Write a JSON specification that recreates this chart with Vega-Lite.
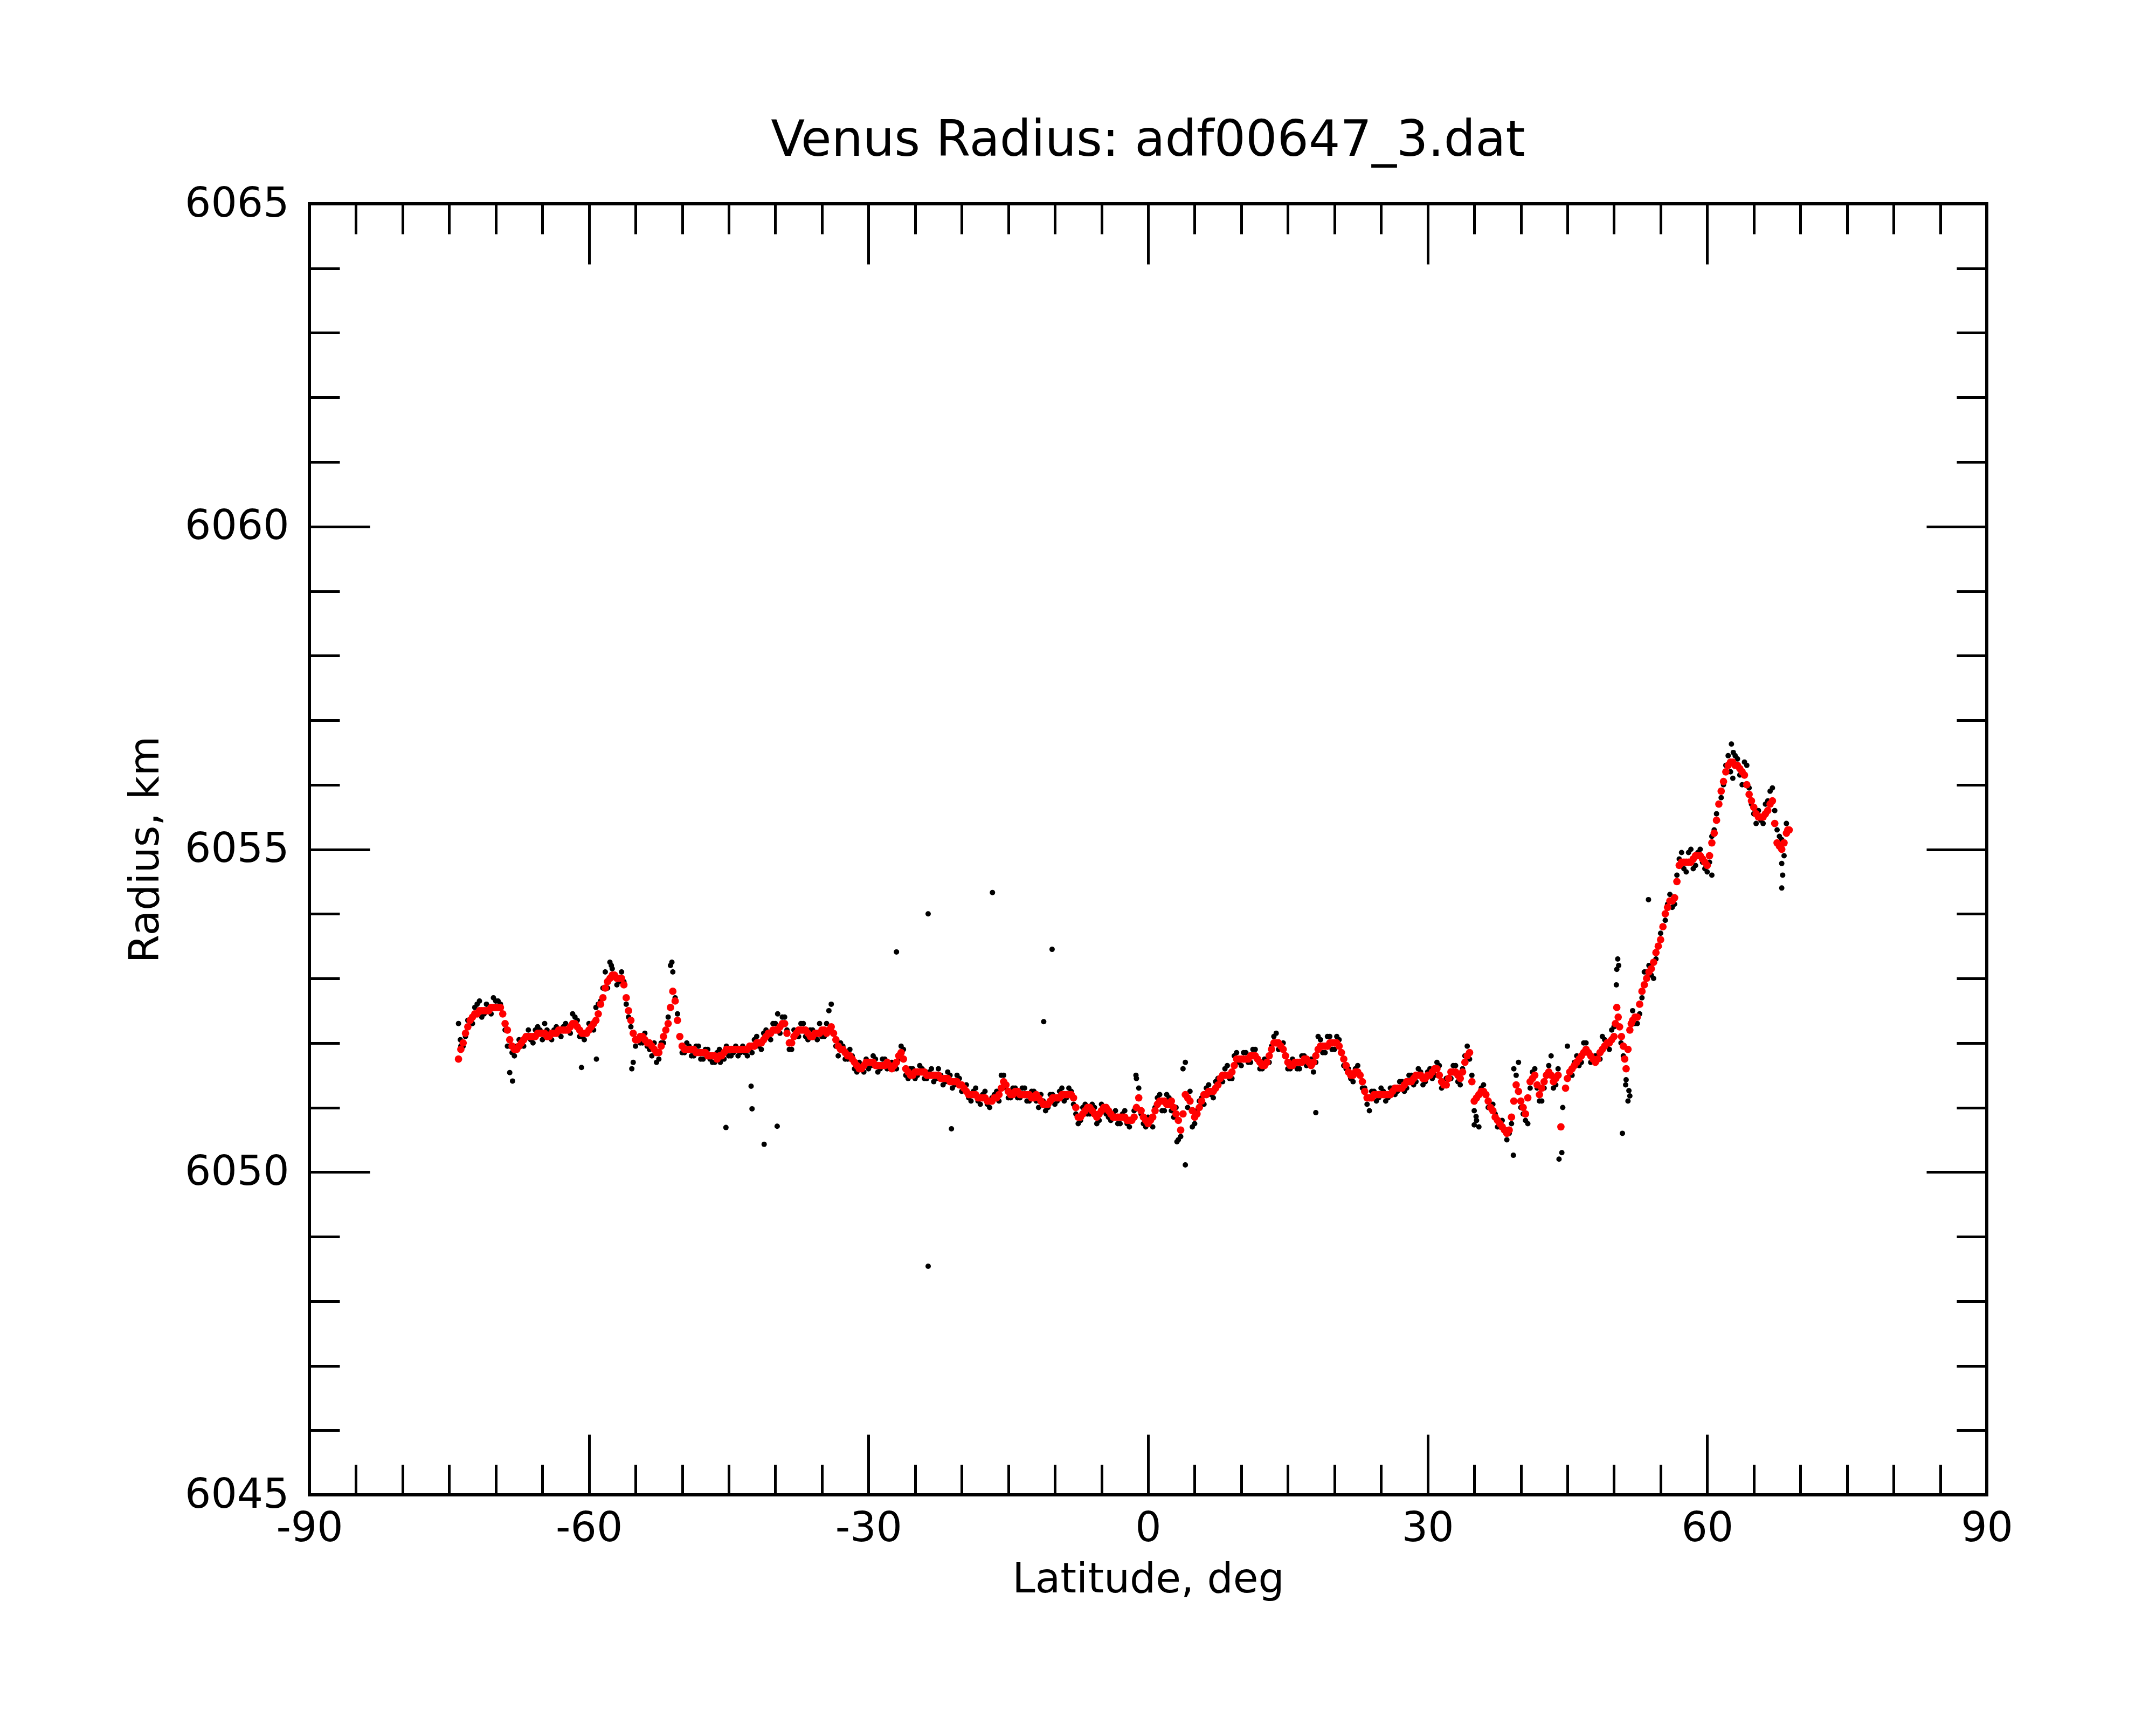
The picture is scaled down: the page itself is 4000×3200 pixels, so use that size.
{
"$schema": "https://vega.github.io/schema/vega-lite/v6.json",
"autosize": {"type": "none"},
"padding": {"left": 574, "top": 378, "right": 314, "bottom": 427},
"width": 3112,
"height": 2395,
"config": {
  "view": {"stroke": "black", "strokeWidth": 6},
  "font": "DejaVu Sans",
  "axis": {"grid": false, "domain": false, "tickColor": "black", "tickWidth": 5, "labelColor": "black", "labelFont": "DejaVu Sans", "labelFontSize": 76, "labelLimit": 1000, "titleFont": "DejaVu Sans", "titleFontSize": 76, "titleFontWeight": "normal", "titleColor": "black", "labelOverlap": false, "labelFlush": false, "labelBound": false}
},
"title": {"text": "Venus Radius: adf00647_3.dat", "font": "DejaVu Sans", "fontSize": 92, "fontWeight": "normal", "color": "black", "anchor": "middle", "baseline": "alphabetic", "offset": -41},
"datasets": {
"raw": [
{"lat":-74.0,"r":6052.3},{"lat":-73.8,"r":6052.05},{"lat":-73.75,"r":6051.95},{"lat":-73.25,"r":6052.1},{"lat":-72.75,"r":6052.35},{"lat":-72.25,"r":6052.55},{"lat":-71.75,"r":6052.65},{"lat":-71.25,"r":6052.45},{"lat":-70.75,"r":6052.5},{"lat":-70.25,"r":6052.7},{"lat":-69.75,"r":6052.65},{"lat":-69.25,"r":6052.45},{"lat":-68.75,"r":6051.95},{"lat":-68.25,"r":6051.85},{"lat":-67.75,"r":6051.95},{"lat":-67.25,"r":6052.0},{"lat":-66.75,"r":6052.1},{"lat":-66.25,"r":6052.05},{"lat":-65.75,"r":6052.2},{"lat":-65.25,"r":6052.2},{"lat":-64.75,"r":6052.3},{"lat":-64.25,"r":6052.1},{"lat":-63.75,"r":6052.2},{"lat":-63.25,"r":6052.15},{"lat":-62.75,"r":6052.25},{"lat":-62.25,"r":6052.2},{"lat":-61.75,"r":6052.45},{"lat":-61.25,"r":6052.35},{"lat":-60.75,"r":6052.1},{"lat":-60.25,"r":6052.15},{"lat":-59.75,"r":6052.25},{"lat":-59.25,"r":6052.55},{"lat":-58.75,"r":6052.65},{"lat":-58.25,"r":6053.1},{"lat":-57.75,"r":6053.25},{"lat":-57.25,"r":6053.05},{"lat":-56.75,"r":6052.95},{"lat":-56.25,"r":6052.95},{"lat":-55.75,"r":6052.4},{"lat":-55.25,"r":6051.7},{"lat":-54.75,"r":6052.05},{"lat":-54.25,"r":6052.0},{"lat":-53.75,"r":6051.95},{"lat":-53.25,"r":6051.8},{"lat":-52.75,"r":6051.7},{"lat":-52.25,"r":6052.0},{"lat":-51.75,"r":6052.2},{"lat":-51.25,"r":6053.2},{"lat":-51.0,"r":6053.1},{"lat":-50.75,"r":6052.7},{"lat":-50.25,"r":6052.1},{"lat":-49.75,"r":6051.85},{"lat":-49.25,"r":6051.95},{"lat":-48.75,"r":6051.8},{"lat":-48.25,"r":6051.95},{"lat":-47.75,"r":6051.75},{"lat":-47.25,"r":6051.9},{"lat":-46.75,"r":6051.7},{"lat":-46.25,"r":6051.85},{"lat":-45.75,"r":6051.75},{"lat":-45.25,"r":6051.95},{"lat":-44.75,"r":6051.8},{"lat":-44.25,"r":6051.95},{"lat":-43.75,"r":6051.85},{"lat":-43.25,"r":6051.85},{"lat":-42.75,"r":6051.9},{"lat":-42.25,"r":6052.05},{"lat":-41.75,"r":6051.95},{"lat":-41.25,"r":6052.15},{"lat":-40.75,"r":6052.1},{"lat":-40.25,"r":6052.3},{"lat":-39.75,"r":6052.45},{"lat":-39.25,"r":6052.4},{"lat":-38.75,"r":6052.2},{"lat":-38.25,"r":6051.9},{"lat":-37.75,"r":6052.15},{"lat":-37.25,"r":6052.3},{"lat":-36.75,"r":6052.1},{"lat":-36.25,"r":6052.2},{"lat":-35.75,"r":6052.1},{"lat":-35.25,"r":6052.3},{"lat":-34.75,"r":6052.1},{"lat":-34.25,"r":6052.5},{"lat":-34.0,"r":6052.6},{"lat":-33.75,"r":6052.15},{"lat":-33.25,"r":6051.8},{"lat":-32.75,"r":6051.95},{"lat":-32.25,"r":6051.75},{"lat":-31.75,"r":6051.8},{"lat":-31.25,"r":6051.55},{"lat":-30.75,"r":6051.6},{"lat":-30.25,"r":6051.75},{"lat":-29.75,"r":6051.65},{"lat":-29.25,"r":6051.75},{"lat":-28.75,"r":6051.6},{"lat":-28.25,"r":6051.75},{"lat":-27.75,"r":6051.65},{"lat":-27.25,"r":6051.6},{"lat":-26.75,"r":6051.75},{"lat":-26.25,"r":6051.9},{"lat":-25.75,"r":6051.45},{"lat":-25.25,"r":6051.6},{"lat":-24.75,"r":6051.5},{"lat":-24.25,"r":6051.6},{"lat":-23.75,"r":6051.45},{"lat":-23.25,"r":6051.6},{"lat":-22.75,"r":6051.45},{"lat":-22.25,"r":6051.5},{"lat":-21.75,"r":6051.4},{"lat":-21.25,"r":6051.5},{"lat":-20.75,"r":6051.35},{"lat":-20.25,"r":6051.45},{"lat":-19.75,"r":6051.3},{"lat":-19.25,"r":6051.15},{"lat":-18.75,"r":6051.25},{"lat":-18.25,"r":6051.1},{"lat":-17.75,"r":6051.2},{"lat":-17.25,"r":6051.05},{"lat":-16.75,"r":6051.15},{"lat":-16.25,"r":6051.25},{"lat":-15.75,"r":6051.5},{"lat":-15.25,"r":6051.3},{"lat":-14.75,"r":6051.15},{"lat":-14.25,"r":6051.3},{"lat":-13.75,"r":6051.15},{"lat":-13.25,"r":6051.3},{"lat":-12.75,"r":6051.1},{"lat":-12.25,"r":6051.25},{"lat":-11.75,"r":6051.0},{"lat":-11.25,"r":6051.1},{"lat":-10.75,"r":6051.0},{"lat":-10.25,"r":6051.2},{"lat":-9.75,"r":6051.1},{"lat":-9.25,"r":6051.3},{"lat":-8.75,"r":6051.15},{"lat":-8.25,"r":6051.25},{"lat":-7.75,"r":6050.9},{"lat":-7.25,"r":6050.8},{"lat":-6.75,"r":6051.05},{"lat":-6.25,"r":6050.9},{"lat":-5.75,"r":6051.0},{"lat":-5.25,"r":6050.8},{"lat":-4.75,"r":6051.0},{"lat":-4.25,"r":6050.85},{"lat":-3.75,"r":6050.9},{"lat":-3.25,"r":6050.75},{"lat":-2.75,"r":6050.9},{"lat":-2.25,"r":6050.75},{"lat":-1.75,"r":6050.8},{"lat":-1.25,"r":6051.45},{"lat":-0.75,"r":6050.9},{"lat":-0.25,"r":6050.7},{"lat":0.25,"r":6050.8},{"lat":0.75,"r":6051.0},{"lat":1.25,"r":6051.2},{"lat":1.75,"r":6050.95},{"lat":2.25,"r":6051.15},{"lat":2.75,"r":6050.85},{"lat":3.25,"r":6050.5},{"lat":3.75,"r":6051.6},{"lat":4.0,"r":6051.7},{"lat":4.25,"r":6051.0},{"lat":4.75,"r":6050.7},{"lat":5.25,"r":6050.95},{"lat":5.75,"r":6051.15},{"lat":6.25,"r":6051.3},{"lat":6.75,"r":6051.2},{"lat":7.25,"r":6051.4},{"lat":7.75,"r":6051.45},{"lat":8.25,"r":6051.6},{"lat":8.75,"r":6051.45},{"lat":9.25,"r":6051.8},{"lat":9.75,"r":6051.7},{"lat":10.25,"r":6051.85},{"lat":10.75,"r":6051.7},{"lat":11.25,"r":6051.9},{"lat":11.75,"r":6051.75},{"lat":12.25,"r":6051.6},{"lat":12.75,"r":6051.7},{"lat":13.25,"r":6051.95},{"lat":13.75,"r":6052.15},{"lat":14.25,"r":6051.95},{"lat":14.75,"r":6051.8},{"lat":15.25,"r":6051.6},{"lat":15.75,"r":6051.7},{"lat":16.25,"r":6051.6},{"lat":16.75,"r":6051.8},{"lat":17.25,"r":6051.7},{"lat":17.75,"r":6051.55},{"lat":18.25,"r":6052.1},{"lat":18.75,"r":6051.85},{"lat":19.25,"r":6052.1},{"lat":19.75,"r":6051.9},{"lat":20.25,"r":6052.1},{"lat":20.75,"r":6051.85},{"lat":21.25,"r":6051.6},{"lat":21.75,"r":6051.45},{"lat":22.25,"r":6051.6},{"lat":22.75,"r":6051.5},{"lat":23.25,"r":6051.3},{"lat":23.75,"r":6050.95},{"lat":24.25,"r":6051.25},{"lat":24.75,"r":6051.15},{"lat":25.25,"r":6051.25},{"lat":25.75,"r":6051.15},{"lat":26.25,"r":6051.3},{"lat":26.75,"r":6051.25},{"lat":27.25,"r":6051.4},{"lat":27.75,"r":6051.3},{"lat":28.25,"r":6051.5},{"lat":28.75,"r":6051.4},{"lat":29.25,"r":6051.55},{"lat":29.75,"r":6051.4},{"lat":30.25,"r":6051.6},{"lat":30.75,"r":6051.5},{"lat":31.25,"r":6051.65},{"lat":31.75,"r":6051.35},{"lat":32.25,"r":6051.45},{"lat":32.75,"r":6051.65},{"lat":33.25,"r":6051.4},{"lat":33.75,"r":6051.6},{"lat":34.25,"r":6051.95},{"lat":34.75,"r":6051.5},{"lat":35.25,"r":6050.8},{"lat":35.5,"r":6050.7},{"lat":35.75,"r":6051.3},{"lat":36.25,"r":6051.2},{"lat":36.75,"r":6051.05},{"lat":37.25,"r":6050.9},{"lat":37.75,"r":6050.7},{"lat":38.25,"r":6050.65},{"lat":38.75,"r":6050.6},{"lat":39.25,"r":6051.6},{"lat":39.75,"r":6051.7},{"lat":40.25,"r":6050.9},{"lat":40.75,"r":6050.75},{"lat":41.25,"r":6051.55},{"lat":41.75,"r":6051.3},{"lat":42.25,"r":6051.1},{"lat":42.75,"r":6051.5},{"lat":43.25,"r":6051.8},{"lat":43.75,"r":6051.35},{"lat":44.5,"r":6051.0},{"lat":45.0,"r":6051.95},{"lat":45.25,"r":6051.5},{"lat":45.75,"r":6051.7},{"lat":46.25,"r":6051.65},{"lat":46.75,"r":6052.0},{"lat":47.25,"r":6051.85},{"lat":47.75,"r":6051.75},{"lat":48.25,"r":6051.8},{"lat":48.75,"r":6052.1},{"lat":49.25,"r":6051.95},{"lat":49.75,"r":6052.2},{"lat":50.25,"r":6052.9},{"lat":50.4,"r":6053.3},{"lat":50.5,"r":6053.2},{"lat":50.75,"r":6052.0},{"lat":51.25,"r":6051.35},{"lat":51.5,"r":6051.1},{"lat":52.0,"r":6052.5},{"lat":52.25,"r":6052.3},{"lat":52.75,"r":6052.45},{"lat":53.25,"r":6053.1},{"lat":53.75,"r":6053.2},{"lat":54.25,"r":6053.0},{"lat":54.75,"r":6053.5},{"lat":55.25,"r":6053.8},{"lat":55.75,"r":6054.15},{"lat":56.25,"r":6054.1},{"lat":56.75,"r":6054.6},{"lat":57.25,"r":6054.95},{"lat":57.75,"r":6054.65},{"lat":58.25,"r":6055.0},{"lat":58.75,"r":6054.75},{"lat":59.25,"r":6055.0},{"lat":59.75,"r":6054.7},{"lat":60.25,"r":6054.8},{"lat":60.75,"r":6055.3},{"lat":61.25,"r":6055.7},{"lat":61.75,"r":6056.0},{"lat":62.25,"r":6056.45},{"lat":62.75,"r":6056.1},{"lat":63.25,"r":6056.4},{"lat":63.75,"r":6056.0},{"lat":64.25,"r":6056.3},{"lat":64.75,"r":6055.7},{"lat":65.25,"r":6055.4},{"lat":65.75,"r":6055.45},{"lat":66.25,"r":6055.7},{"lat":66.75,"r":6055.9},{"lat":67.25,"r":6055.6},{"lat":67.75,"r":6055.2},{"lat":68.25,"r":6054.9},{"lat":68.5,"r":6055.4},
{"lat":-23.6,"r":6054.0},{"lat":-16.7,"r":6054.33},{"lat":-27.0,"r":6053.41},{"lat":-10.3,"r":6053.45},{"lat":-11.2,"r":6052.33},{"lat":-23.6,"r":6048.54},{"lat":-45.3,"r":6050.69},{"lat":-41.2,"r":6050.43},{"lat":-39.8,"r":6050.71},{"lat":-42.5,"r":6050.98},{"lat":-42.6,"r":6051.33},{"lat":-60.8,"r":6051.62},{"lat":-59.2,"r":6051.75},{"lat":-68.2,"r":6051.41},{"lat":-68.5,"r":6051.54},{"lat":-21.1,"r":6050.67},{"lat":4.0,"r":6050.11},{"lat":3.1,"r":6050.47},{"lat":-1.3,"r":6051.5},{"lat":18.0,"r":6050.92},{"lat":39.2,"r":6050.26},{"lat":44.1,"r":6050.2},{"lat":44.4,"r":6050.3},{"lat":50.9,"r":6050.6},{"lat":53.7,"r":6054.22},{"lat":50.3,"r":6053.14},{"lat":51.6,"r":6051.26},{"lat":51.3,"r":6051.43},{"lat":51.7,"r":6051.18},{"lat":68.0,"r":6054.4},{"lat":68.1,"r":6054.6},{"lat":68.0,"r":6054.78},{"lat":62.6,"r":6056.63},{"lat":62.8,"r":6056.5},{"lat":60.5,"r":6054.6},{"lat":-57.6,"r":6053.2},{"lat":-51.1,"r":6053.25},{"lat":35.0,"r":6050.73},{"lat":35.2,"r":6050.86},{"lat":-55.4,"r":6051.6},{"lat":-45.9,"r":6051.7},
{"lat":-73.5,"r":6051.95},{"lat":-73.0,"r":6052.35},{"lat":-72.5,"r":6052.3},{"lat":-72.0,"r":6052.6},{"lat":-71.5,"r":6052.4},{"lat":-71.0,"r":6052.6},{"lat":-70.5,"r":6052.45},{"lat":-70.0,"r":6052.65},{"lat":-69.5,"r":6052.6},{"lat":-69.0,"r":6052.2},{"lat":-68.5,"r":6051.95},{"lat":-68.0,"r":6051.8},{"lat":-67.5,"r":6052.05},{"lat":-67.0,"r":6051.95},{"lat":-66.5,"r":6052.2},{"lat":-66.0,"r":6052.0},{"lat":-65.5,"r":6052.25},{"lat":-65.0,"r":6052.05},{"lat":-64.5,"r":6052.2},{"lat":-64.0,"r":6052.05},{"lat":-63.5,"r":6052.25},{"lat":-63.0,"r":6052.1},{"lat":-62.5,"r":6052.3},{"lat":-62.0,"r":6052.15},{"lat":-61.5,"r":6052.4},{"lat":-61.0,"r":6052.1},{"lat":-60.5,"r":6052.05},{"lat":-60.0,"r":6052.3},{"lat":-59.5,"r":6052.2},{"lat":-59.0,"r":6052.6},{"lat":-58.5,"r":6052.85},{"lat":-58.0,"r":6052.85},{"lat":-57.5,"r":6053.15},{"lat":-57.0,"r":6052.9},{"lat":-56.5,"r":6053.1},{"lat":-56.0,"r":6052.6},{"lat":-55.5,"r":6052.25},{"lat":-55.0,"r":6051.95},{"lat":-54.5,"r":6052.0},{"lat":-54.0,"r":6052.15},{"lat":-53.5,"r":6051.9},{"lat":-53.0,"r":6052.0},{"lat":-52.5,"r":6051.75},{"lat":-52.0,"r":6052.0},{"lat":-51.5,"r":6052.4},{"lat":-50.5,"r":6052.45},{"lat":-50.0,"r":6051.85},{"lat":-49.5,"r":6052.0},{"lat":-49.0,"r":6051.8},{"lat":-48.5,"r":6051.95},{"lat":-48.0,"r":6051.75},{"lat":-47.5,"r":6051.9},{"lat":-47.0,"r":6051.75},{"lat":-46.5,"r":6051.7},{"lat":-46.0,"r":6051.9},{"lat":-45.5,"r":6051.75},{"lat":-45.0,"r":6051.8},{"lat":-44.5,"r":6051.85},{"lat":-44.0,"r":6051.8},{"lat":-43.5,"r":6051.95},{"lat":-43.0,"r":6051.8},{"lat":-42.5,"r":6051.85},{"lat":-42.0,"r":6052.1},{"lat":-41.5,"r":6051.9},{"lat":-41.0,"r":6052.2},{"lat":-40.5,"r":6052.05},{"lat":-40.0,"r":6052.3},{"lat":-39.5,"r":6052.15},{"lat":-39.0,"r":6052.4},{"lat":-38.5,"r":6051.9},{"lat":-38.0,"r":6052.2},{"lat":-37.5,"r":6052.1},{"lat":-37.0,"r":6052.3},{"lat":-36.5,"r":6052.05},{"lat":-36.0,"r":6052.2},{"lat":-35.5,"r":6052.05},{"lat":-35.0,"r":6052.1},{"lat":-34.5,"r":6052.3},{"lat":-33.5,"r":6051.95},{"lat":-33.0,"r":6052.0},{"lat":-32.5,"r":6051.75},{"lat":-32.0,"r":6051.9},{"lat":-31.5,"r":6051.6},{"lat":-31.0,"r":6051.7},{"lat":-30.5,"r":6051.55},{"lat":-30.0,"r":6051.6},{"lat":-29.5,"r":6051.8},{"lat":-29.0,"r":6051.55},{"lat":-28.5,"r":6051.75},{"lat":-28.0,"r":6051.6},{"lat":-27.5,"r":6051.7},{"lat":-27.0,"r":6051.6},{"lat":-26.5,"r":6051.95},{"lat":-26.0,"r":6051.5},{"lat":-25.5,"r":6051.6},{"lat":-25.0,"r":6051.45},{"lat":-24.5,"r":6051.65},{"lat":-24.0,"r":6051.45},{"lat":-23.5,"r":6051.55},{"lat":-23.0,"r":6051.4},{"lat":-22.5,"r":6051.6},{"lat":-22.0,"r":6051.35},{"lat":-21.5,"r":6051.55},{"lat":-21.0,"r":6051.3},{"lat":-20.5,"r":6051.5},{"lat":-20.0,"r":6051.25},{"lat":-19.5,"r":6051.35},{"lat":-19.0,"r":6051.1},{"lat":-18.5,"r":6051.3},{"lat":-18.0,"r":6051.05},{"lat":-17.5,"r":6051.25},{"lat":-17.0,"r":6051.0},{"lat":-16.5,"r":6051.2},{"lat":-16.0,"r":6051.1},{"lat":-15.5,"r":6051.5},{"lat":-15.0,"r":6051.15},{"lat":-14.5,"r":6051.3},{"lat":-14.0,"r":6051.15},{"lat":-13.5,"r":6051.3},{"lat":-13.0,"r":6051.1},{"lat":-12.5,"r":6051.25},{"lat":-12.0,"r":6051.1},{"lat":-11.5,"r":6051.2},{"lat":-11.0,"r":6050.95},{"lat":-10.5,"r":6051.2},{"lat":-10.0,"r":6051.05},{"lat":-9.5,"r":6051.25},{"lat":-9.0,"r":6051.1},{"lat":-8.5,"r":6051.3},{"lat":-8.0,"r":6051.05},{"lat":-7.5,"r":6050.75},{"lat":-7.0,"r":6051.0},{"lat":-6.5,"r":6050.9},{"lat":-6.0,"r":6051.05},{"lat":-5.5,"r":6050.75},{"lat":-5.0,"r":6051.05},{"lat":-4.5,"r":6050.9},{"lat":-4.0,"r":6050.8},{"lat":-3.5,"r":6050.95},{"lat":-3.0,"r":6050.75},{"lat":-2.5,"r":6050.95},{"lat":-2.0,"r":6050.7},{"lat":-1.5,"r":6050.95},{"lat":-1.0,"r":6051.3},{"lat":-0.5,"r":6050.75},{"lat":0.0,"r":6050.85},{"lat":0.5,"r":6050.7},{"lat":1.0,"r":6051.15},{"lat":1.5,"r":6050.95},{"lat":2.0,"r":6051.2},{"lat":2.5,"r":6050.95},{"lat":3.0,"r":6051.0},{"lat":3.5,"r":6050.55},{"lat":4.5,"r":6051.25},{"lat":5.0,"r":6050.75},{"lat":5.5,"r":6051.1},{"lat":6.0,"r":6051.05},{"lat":6.5,"r":6051.35},{"lat":7.0,"r":6051.15},{"lat":7.5,"r":6051.45},{"lat":8.0,"r":6051.4},{"lat":8.5,"r":6051.65},{"lat":9.0,"r":6051.45},{"lat":9.5,"r":6051.85},{"lat":10.0,"r":6051.65},{"lat":10.5,"r":6051.85},{"lat":11.0,"r":6051.7},{"lat":11.5,"r":6051.9},{"lat":12.0,"r":6051.6},{"lat":12.5,"r":6051.75},{"lat":13.0,"r":6051.7},{"lat":13.5,"r":6052.1},{"lat":14.0,"r":6051.9},{"lat":14.5,"r":6052.0},{"lat":15.0,"r":6051.6},{"lat":15.5,"r":6051.75},{"lat":16.0,"r":6051.6},{"lat":16.5,"r":6051.8},{"lat":17.0,"r":6051.65},{"lat":17.5,"r":6051.75},{"lat":18.0,"r":6051.7},{"lat":18.5,"r":6052.05},{"lat":19.0,"r":6051.85},{"lat":19.5,"r":6052.1},{"lat":20.0,"r":6051.9},{"lat":20.5,"r":6052.05},{"lat":21.0,"r":6051.65},{"lat":21.5,"r":6051.6},{"lat":22.0,"r":6051.4},{"lat":22.5,"r":6051.65},{"lat":23.0,"r":6051.3},{"lat":23.5,"r":6051.05},{"lat":24.0,"r":6051.25},{"lat":24.5,"r":6051.1},{"lat":25.0,"r":6051.3},{"lat":25.5,"r":6051.1},{"lat":26.0,"r":6051.3},{"lat":26.5,"r":6051.2},{"lat":27.0,"r":6051.4},{"lat":27.5,"r":6051.25},{"lat":28.0,"r":6051.5},{"lat":28.5,"r":6051.35},{"lat":29.0,"r":6051.6},{"lat":29.5,"r":6051.35},{"lat":30.0,"r":6051.55},{"lat":30.5,"r":6051.45},{"lat":31.0,"r":6051.7},{"lat":31.5,"r":6051.3},{"lat":32.0,"r":6051.45},{"lat":32.5,"r":6051.45},{"lat":33.0,"r":6051.65},{"lat":33.5,"r":6051.35},{"lat":34.0,"r":6051.8},{"lat":34.5,"r":6051.75},{"lat":35.0,"r":6050.95},{"lat":36.0,"r":6051.35},{"lat":36.5,"r":6051.0},{"lat":37.0,"r":6051.05},{"lat":37.5,"r":6050.7},{"lat":38.0,"r":6050.8},{"lat":38.5,"r":6050.5},{"lat":39.0,"r":6050.75},{"lat":39.5,"r":6051.5},{"lat":40.0,"r":6051.0},{"lat":40.5,"r":6050.8},{"lat":41.0,"r":6051.3},{"lat":41.5,"r":6051.6},{"lat":42.0,"r":6051.1},{"lat":42.5,"r":6051.3},{"lat":43.0,"r":6051.65},{"lat":43.5,"r":6051.3},{"lat":44.0,"r":6051.6},{"lat":45.5,"r":6051.5},{"lat":46.0,"r":6051.8},{"lat":46.5,"r":6051.7},{"lat":47.0,"r":6052.0},{"lat":47.5,"r":6051.7},{"lat":48.0,"r":6051.8},{"lat":48.5,"r":6051.75},{"lat":49.0,"r":6052.05},{"lat":49.5,"r":6051.9},{"lat":50.0,"r":6052.25},{"lat":51.0,"r":6051.8},{"lat":52.5,"r":6052.3},{"lat":53.0,"r":6052.7},{"lat":53.5,"r":6053.1},{"lat":54.0,"r":6053.05},{"lat":54.5,"r":6053.3},{"lat":55.0,"r":6053.7},{"lat":55.5,"r":6053.9},{"lat":56.0,"r":6054.3},{"lat":56.5,"r":6054.15},{"lat":57.0,"r":6054.85},{"lat":57.5,"r":6054.7},{"lat":58.0,"r":6054.95},{"lat":58.5,"r":6054.7},{"lat":59.0,"r":6054.95},{"lat":59.5,"r":6054.8},{"lat":60.0,"r":6054.65},{"lat":60.5,"r":6055.2},{"lat":61.0,"r":6055.55},{"lat":61.5,"r":6055.8},{"lat":62.0,"r":6056.3},{"lat":62.5,"r":6056.2},{"lat":63.0,"r":6056.45},{"lat":63.5,"r":6056.15},{"lat":64.0,"r":6056.35},{"lat":64.5,"r":6055.95},{"lat":65.0,"r":6055.55},{"lat":65.5,"r":6055.6},{"lat":66.0,"r":6055.4},{"lat":66.5,"r":6055.75},{"lat":67.0,"r":6055.95},{"lat":67.5,"r":6055.3},{"lat":68.0,"r":6055.15}
],
"smooth": [
{"lat":-74.0,"r":6051.75},{"lat":-73.5,"r":6052.0},{"lat":-73.0,"r":6052.25},{"lat":-72.5,"r":6052.4},{"lat":-72.0,"r":6052.45},{"lat":-71.5,"r":6052.5},{"lat":-71.0,"r":6052.5},{"lat":-70.5,"r":6052.55},{"lat":-70.0,"r":6052.55},{"lat":-69.5,"r":6052.55},{"lat":-69.0,"r":6052.3},{"lat":-68.5,"r":6052.05},{"lat":-68.0,"r":6051.9},{"lat":-67.5,"r":6051.95},{"lat":-67.0,"r":6052.05},{"lat":-66.5,"r":6052.1},{"lat":-66.0,"r":6052.1},{"lat":-65.5,"r":6052.15},{"lat":-65.0,"r":6052.15},{"lat":-64.5,"r":6052.1},{"lat":-64.0,"r":6052.15},{"lat":-63.5,"r":6052.15},{"lat":-63.0,"r":6052.2},{"lat":-62.5,"r":6052.2},{"lat":-62.0,"r":6052.25},{"lat":-61.5,"r":6052.3},{"lat":-61.0,"r":6052.2},{"lat":-60.5,"r":6052.15},{"lat":-60.0,"r":6052.2},{"lat":-59.5,"r":6052.3},{"lat":-59.0,"r":6052.45},{"lat":-58.5,"r":6052.7},{"lat":-58.0,"r":6052.95},{"lat":-57.5,"r":6053.05},{"lat":-57.0,"r":6053.0},{"lat":-56.5,"r":6053.0},{"lat":-56.0,"r":6052.7},{"lat":-55.5,"r":6052.35},{"lat":-55.0,"r":6052.05},{"lat":-54.5,"r":6052.1},{"lat":-54.0,"r":6052.05},{"lat":-53.5,"r":6052.0},{"lat":-53.0,"r":6051.9},{"lat":-52.5,"r":6051.85},{"lat":-52.0,"r":6052.1},{"lat":-51.5,"r":6052.3},{"lat":-51.25,"r":6052.55},{"lat":-51.0,"r":6052.8},{"lat":-50.75,"r":6052.65},{"lat":-50.5,"r":6052.35},{"lat":-50.0,"r":6051.95},{"lat":-49.5,"r":6051.9},{"lat":-49.0,"r":6051.9},{"lat":-48.5,"r":6051.85},{"lat":-48.0,"r":6051.85},{"lat":-47.5,"r":6051.85},{"lat":-47.0,"r":6051.8},{"lat":-46.5,"r":6051.8},{"lat":-46.0,"r":6051.8},{"lat":-45.5,"r":6051.85},{"lat":-45.0,"r":6051.9},{"lat":-44.5,"r":6051.9},{"lat":-44.0,"r":6051.9},{"lat":-43.5,"r":6051.9},{"lat":-43.0,"r":6051.9},{"lat":-42.5,"r":6051.95},{"lat":-42.0,"r":6052.0},{"lat":-41.5,"r":6052.0},{"lat":-41.0,"r":6052.1},{"lat":-40.5,"r":6052.15},{"lat":-40.0,"r":6052.2},{"lat":-39.5,"r":6052.25},{"lat":-39.0,"r":6052.3},{"lat":-38.5,"r":6052.0},{"lat":-38.0,"r":6052.1},{"lat":-37.5,"r":6052.2},{"lat":-37.0,"r":6052.2},{"lat":-36.5,"r":6052.15},{"lat":-36.0,"r":6052.1},{"lat":-35.5,"r":6052.15},{"lat":-35.0,"r":6052.2},{"lat":-34.5,"r":6052.15},{"lat":-34.0,"r":6052.25},{"lat":-33.5,"r":6052.05},{"lat":-33.0,"r":6051.9},{"lat":-32.5,"r":6051.85},{"lat":-32.0,"r":6051.8},{"lat":-31.5,"r":6051.7},{"lat":-31.0,"r":6051.6},{"lat":-30.5,"r":6051.65},{"lat":-30.0,"r":6051.7},{"lat":-29.5,"r":6051.7},{"lat":-29.0,"r":6051.65},{"lat":-28.5,"r":6051.65},{"lat":-28.0,"r":6051.7},{"lat":-27.5,"r":6051.6},{"lat":-27.0,"r":6051.7},{"lat":-26.5,"r":6051.85},{"lat":-26.0,"r":6051.6},{"lat":-25.5,"r":6051.5},{"lat":-25.0,"r":6051.55},{"lat":-24.5,"r":6051.55},{"lat":-24.0,"r":6051.55},{"lat":-23.5,"r":6051.5},{"lat":-23.0,"r":6051.5},{"lat":-22.5,"r":6051.5},{"lat":-22.0,"r":6051.45},{"lat":-21.5,"r":6051.45},{"lat":-21.0,"r":6051.4},{"lat":-20.5,"r":6051.4},{"lat":-20.0,"r":6051.35},{"lat":-19.5,"r":6051.25},{"lat":-19.0,"r":6051.2},{"lat":-18.5,"r":6051.2},{"lat":-18.0,"r":6051.15},{"lat":-17.5,"r":6051.15},{"lat":-17.0,"r":6051.1},{"lat":-16.5,"r":6051.15},{"lat":-16.0,"r":6051.2},{"lat":-15.5,"r":6051.4},{"lat":-15.0,"r":6051.25},{"lat":-14.5,"r":6051.2},{"lat":-14.0,"r":6051.25},{"lat":-13.5,"r":6051.2},{"lat":-13.0,"r":6051.2},{"lat":-12.5,"r":6051.15},{"lat":-12.0,"r":6051.2},{"lat":-11.5,"r":6051.1},{"lat":-11.0,"r":6051.05},{"lat":-10.5,"r":6051.1},{"lat":-10.0,"r":6051.15},{"lat":-9.5,"r":6051.15},{"lat":-9.0,"r":6051.2},{"lat":-8.5,"r":6051.2},{"lat":-8.0,"r":6051.15},{"lat":-7.5,"r":6050.85},{"lat":-7.0,"r":6050.9},{"lat":-6.5,"r":6051.0},{"lat":-6.0,"r":6050.95},{"lat":-5.5,"r":6050.85},{"lat":-5.0,"r":6050.95},{"lat":-4.5,"r":6051.0},{"lat":-4.0,"r":6050.9},{"lat":-3.5,"r":6050.85},{"lat":-3.0,"r":6050.85},{"lat":-2.5,"r":6050.85},{"lat":-2.0,"r":6050.8},{"lat":-1.5,"r":6050.85},{"lat":-1.0,"r":6051.15},{"lat":-0.5,"r":6050.85},{"lat":0.0,"r":6050.75},{"lat":0.5,"r":6050.85},{"lat":1.0,"r":6051.05},{"lat":1.5,"r":6051.1},{"lat":2.0,"r":6051.05},{"lat":2.5,"r":6051.1},{"lat":3.0,"r":6050.9},{"lat":3.5,"r":6050.65},{"lat":4.0,"r":6051.2},{"lat":4.5,"r":6051.1},{"lat":5.0,"r":6050.85},{"lat":5.5,"r":6051.0},{"lat":6.0,"r":6051.2},{"lat":6.5,"r":6051.25},{"lat":7.0,"r":6051.25},{"lat":7.5,"r":6051.35},{"lat":8.0,"r":6051.5},{"lat":8.5,"r":6051.5},{"lat":9.0,"r":6051.55},{"lat":9.5,"r":6051.75},{"lat":10.0,"r":6051.75},{"lat":10.5,"r":6051.75},{"lat":11.0,"r":6051.8},{"lat":11.5,"r":6051.8},{"lat":12.0,"r":6051.7},{"lat":12.5,"r":6051.65},{"lat":13.0,"r":6051.8},{"lat":13.5,"r":6052.0},{"lat":14.0,"r":6052.0},{"lat":14.5,"r":6051.9},{"lat":15.0,"r":6051.7},{"lat":15.5,"r":6051.65},{"lat":16.0,"r":6051.7},{"lat":16.5,"r":6051.7},{"lat":17.0,"r":6051.75},{"lat":17.5,"r":6051.65},{"lat":18.0,"r":6051.8},{"lat":18.5,"r":6051.95},{"lat":19.0,"r":6051.95},{"lat":19.5,"r":6052.0},{"lat":20.0,"r":6052.0},{"lat":20.5,"r":6051.95},{"lat":21.0,"r":6051.75},{"lat":21.5,"r":6051.55},{"lat":22.0,"r":6051.5},{"lat":22.5,"r":6051.55},{"lat":23.0,"r":6051.4},{"lat":23.5,"r":6051.15},{"lat":24.0,"r":6051.15},{"lat":24.5,"r":6051.2},{"lat":25.0,"r":6051.2},{"lat":25.5,"r":6051.2},{"lat":26.0,"r":6051.2},{"lat":26.5,"r":6051.3},{"lat":27.0,"r":6051.3},{"lat":27.5,"r":6051.35},{"lat":28.0,"r":6051.4},{"lat":28.5,"r":6051.45},{"lat":29.0,"r":6051.5},{"lat":29.5,"r":6051.45},{"lat":30.0,"r":6051.5},{"lat":30.5,"r":6051.55},{"lat":31.0,"r":6051.6},{"lat":31.5,"r":6051.4},{"lat":32.0,"r":6051.35},{"lat":32.5,"r":6051.55},{"lat":33.0,"r":6051.55},{"lat":33.5,"r":6051.45},{"lat":34.0,"r":6051.7},{"lat":34.5,"r":6051.85},{"lat":35.0,"r":6051.1},{"lat":35.5,"r":6051.2},{"lat":36.0,"r":6051.25},{"lat":36.5,"r":6051.1},{"lat":37.0,"r":6050.95},{"lat":37.5,"r":6050.8},{"lat":38.0,"r":6050.7},{"lat":38.5,"r":6050.6},{"lat":39.0,"r":6050.85},{"lat":39.5,"r":6051.35},{"lat":40.0,"r":6051.1},{"lat":40.5,"r":6050.9},{"lat":41.0,"r":6051.4},{"lat":41.5,"r":6051.5},{"lat":42.0,"r":6051.2},{"lat":42.5,"r":6051.4},{"lat":43.0,"r":6051.55},{"lat":43.5,"r":6051.4},{"lat":44.0,"r":6051.5},{"lat":44.3,"r":6050.7},{"lat":44.8,"r":6051.3},{"lat":45.5,"r":6051.6},{"lat":46.0,"r":6051.7},{"lat":46.5,"r":6051.8},{"lat":47.0,"r":6051.9},{"lat":47.5,"r":6051.8},{"lat":48.0,"r":6051.7},{"lat":48.5,"r":6051.85},{"lat":49.0,"r":6051.95},{"lat":49.5,"r":6052.0},{"lat":50.0,"r":6052.1},{"lat":50.3,"r":6052.55},{"lat":50.6,"r":6052.25},{"lat":51.0,"r":6051.95},{"lat":51.3,"r":6051.6},{"lat":51.7,"r":6052.2},{"lat":52.0,"r":6052.35},{"lat":52.5,"r":6052.4},{"lat":53.0,"r":6052.8},{"lat":53.5,"r":6053.0},{"lat":54.0,"r":6053.15},{"lat":54.5,"r":6053.4},{"lat":55.0,"r":6053.6},{"lat":55.5,"r":6054.0},{"lat":56.0,"r":6054.2},{"lat":56.5,"r":6054.25},{"lat":57.0,"r":6054.75},{"lat":57.5,"r":6054.8},{"lat":58.0,"r":6054.8},{"lat":58.5,"r":6054.85},{"lat":59.0,"r":6054.9},{"lat":59.5,"r":6054.85},{"lat":60.0,"r":6054.75},{"lat":60.5,"r":6055.1},{"lat":61.0,"r":6055.45},{"lat":61.5,"r":6055.9},{"lat":62.0,"r":6056.2},{"lat":62.5,"r":6056.35},{"lat":63.0,"r":6056.3},{"lat":63.5,"r":6056.25},{"lat":64.0,"r":6056.15},{"lat":64.5,"r":6055.85},{"lat":65.0,"r":6055.65},{"lat":65.5,"r":6055.5},{"lat":66.0,"r":6055.5},{"lat":66.5,"r":6055.6},{"lat":67.0,"r":6055.75},{"lat":67.5,"r":6055.1},{"lat":68.0,"r":6055.0},{"lat":68.5,"r":6055.25},{"lat":68.8,"r":6055.3},
{"lat":-73.75,"r":6051.9},{"lat":-73.25,"r":6052.15},{"lat":-72.75,"r":6052.35},{"lat":-72.25,"r":6052.45},{"lat":-71.75,"r":6052.5},{"lat":-71.25,"r":6052.5},{"lat":-70.75,"r":6052.5},{"lat":-70.25,"r":6052.55},{"lat":-69.75,"r":6052.55},{"lat":-69.25,"r":6052.45},{"lat":-68.75,"r":6052.2},{"lat":-68.25,"r":6051.95},{"lat":-67.75,"r":6051.9},{"lat":-67.25,"r":6052.0},{"lat":-66.75,"r":6052.1},{"lat":-66.25,"r":6052.1},{"lat":-65.75,"r":6052.1},{"lat":-65.25,"r":6052.15},{"lat":-64.75,"r":6052.15},{"lat":-64.25,"r":6052.1},{"lat":-63.75,"r":6052.15},{"lat":-63.25,"r":6052.2},{"lat":-62.75,"r":6052.2},{"lat":-62.25,"r":6052.2},{"lat":-61.75,"r":6052.3},{"lat":-61.25,"r":6052.25},{"lat":-60.75,"r":6052.15},{"lat":-60.25,"r":6052.15},{"lat":-59.75,"r":6052.25},{"lat":-59.25,"r":6052.35},{"lat":-58.75,"r":6052.6},{"lat":-58.25,"r":6052.85},{"lat":-57.75,"r":6053.0},{"lat":-57.25,"r":6053.05},{"lat":-56.75,"r":6053.0},{"lat":-56.25,"r":6052.9},{"lat":-55.75,"r":6052.5},{"lat":-55.25,"r":6052.15},{"lat":-54.75,"r":6052.05},{"lat":-54.25,"r":6052.1},{"lat":-53.75,"r":6052.0},{"lat":-53.25,"r":6051.95},{"lat":-52.75,"r":6051.85},{"lat":-52.25,"r":6051.95},{"lat":-51.75,"r":6052.2},{"lat":-50.25,"r":6052.1},{"lat":-49.75,"r":6051.9},{"lat":-49.25,"r":6051.9},{"lat":-48.75,"r":6051.9},{"lat":-48.25,"r":6051.85},{"lat":-47.75,"r":6051.85},{"lat":-47.25,"r":6051.8},{"lat":-46.75,"r":6051.8},{"lat":-46.25,"r":6051.75},{"lat":-45.75,"r":6051.8},{"lat":-45.25,"r":6051.9},{"lat":-44.75,"r":6051.9},{"lat":-44.25,"r":6051.9},{"lat":-43.75,"r":6051.9},{"lat":-43.25,"r":6051.9},{"lat":-42.75,"r":6051.95},{"lat":-42.25,"r":6051.95},{"lat":-41.75,"r":6052.0},{"lat":-41.25,"r":6052.05},{"lat":-40.75,"r":6052.15},{"lat":-40.25,"r":6052.2},{"lat":-39.75,"r":6052.2},{"lat":-39.25,"r":6052.3},{"lat":-38.75,"r":6052.15},{"lat":-38.25,"r":6052.0},{"lat":-37.75,"r":6052.15},{"lat":-37.25,"r":6052.2},{"lat":-36.75,"r":6052.2},{"lat":-36.25,"r":6052.1},{"lat":-35.75,"r":6052.15},{"lat":-35.25,"r":6052.15},{"lat":-34.75,"r":6052.2},{"lat":-34.25,"r":6052.2},{"lat":-33.75,"r":6052.15},{"lat":-33.25,"r":6051.95},{"lat":-32.75,"r":6051.9},{"lat":-32.25,"r":6051.8},{"lat":-31.75,"r":6051.75},{"lat":-31.25,"r":6051.65},{"lat":-30.75,"r":6051.6},{"lat":-30.25,"r":6051.7},{"lat":-29.75,"r":6051.7},{"lat":-29.25,"r":6051.65},{"lat":-28.75,"r":6051.65},{"lat":-28.25,"r":6051.65},{"lat":-27.75,"r":6051.65},{"lat":-27.25,"r":6051.65},{"lat":-26.75,"r":6051.8},{"lat":-26.25,"r":6051.75},{"lat":-25.75,"r":6051.55},{"lat":-25.25,"r":6051.5},{"lat":-24.75,"r":6051.55},{"lat":-24.25,"r":6051.55},{"lat":-23.75,"r":6051.5},{"lat":-23.25,"r":6051.5},{"lat":-22.75,"r":6051.5},{"lat":-22.25,"r":6051.45},{"lat":-21.75,"r":6051.45},{"lat":-21.25,"r":6051.4},{"lat":-20.75,"r":6051.4},{"lat":-20.25,"r":6051.35},{"lat":-19.75,"r":6051.3},{"lat":-19.25,"r":6051.2},{"lat":-18.75,"r":6051.2},{"lat":-18.25,"r":6051.15},{"lat":-17.75,"r":6051.15},{"lat":-17.25,"r":6051.1},{"lat":-16.75,"r":6051.1},{"lat":-16.25,"r":6051.15},{"lat":-15.75,"r":6051.3},{"lat":-15.25,"r":6051.35},{"lat":-14.75,"r":6051.2},{"lat":-14.25,"r":6051.25},{"lat":-13.75,"r":6051.2},{"lat":-13.25,"r":6051.2},{"lat":-12.75,"r":6051.2},{"lat":-12.25,"r":6051.15},{"lat":-11.75,"r":6051.15},{"lat":-11.25,"r":6051.05},{"lat":-10.75,"r":6051.05},{"lat":-10.25,"r":6051.15},{"lat":-9.75,"r":6051.15},{"lat":-9.25,"r":6051.2},{"lat":-8.75,"r":6051.2},{"lat":-8.25,"r":6051.2},{"lat":-7.75,"r":6051.0},{"lat":-7.25,"r":6050.85},{"lat":-6.75,"r":6050.95},{"lat":-6.25,"r":6051.0},{"lat":-5.75,"r":6050.9},{"lat":-5.25,"r":6050.9},{"lat":-4.75,"r":6051.0},{"lat":-4.25,"r":6050.95},{"lat":-3.75,"r":6050.85},{"lat":-3.25,"r":6050.85},{"lat":-2.75,"r":6050.85},{"lat":-2.25,"r":6050.8},{"lat":-1.75,"r":6050.8},{"lat":-1.25,"r":6051.0},{"lat":-0.75,"r":6050.95},{"lat":-0.25,"r":6050.8},{"lat":0.25,"r":6050.8},{"lat":0.75,"r":6050.95},{"lat":1.25,"r":6051.1},{"lat":1.75,"r":6051.1},{"lat":2.25,"r":6051.05},{"lat":2.75,"r":6051.0},{"lat":3.25,"r":6050.8},{"lat":3.75,"r":6050.9},{"lat":4.25,"r":6051.15},{"lat":4.75,"r":6050.95},{"lat":5.25,"r":6050.9},{"lat":5.75,"r":6051.1},{"lat":6.25,"r":6051.2},{"lat":6.75,"r":6051.25},{"lat":7.25,"r":6051.3},{"lat":7.75,"r":6051.45},{"lat":8.25,"r":6051.5},{"lat":8.75,"r":6051.5},{"lat":9.25,"r":6051.65},{"lat":9.75,"r":6051.75},{"lat":10.25,"r":6051.75},{"lat":10.75,"r":6051.75},{"lat":11.25,"r":6051.8},{"lat":11.75,"r":6051.75},{"lat":12.25,"r":6051.65},{"lat":12.75,"r":6051.7},{"lat":13.25,"r":6051.9},{"lat":13.75,"r":6052.0},{"lat":14.25,"r":6051.95},{"lat":14.75,"r":6051.8},{"lat":15.25,"r":6051.65},{"lat":15.75,"r":6051.7},{"lat":16.25,"r":6051.7},{"lat":16.75,"r":6051.75},{"lat":17.25,"r":6051.7},{"lat":17.75,"r":6051.7},{"lat":18.25,"r":6051.9},{"lat":18.75,"r":6051.95},{"lat":19.25,"r":6051.95},{"lat":19.75,"r":6052.0},{"lat":20.25,"r":6052.0},{"lat":20.75,"r":6051.85},{"lat":21.25,"r":6051.65},{"lat":21.75,"r":6051.5},{"lat":22.25,"r":6051.55},{"lat":22.75,"r":6051.5},{"lat":23.25,"r":6051.25},{"lat":23.75,"r":6051.15},{"lat":24.25,"r":6051.2},{"lat":24.75,"r":6051.2},{"lat":25.25,"r":6051.2},{"lat":25.75,"r":6051.2},{"lat":26.25,"r":6051.25},{"lat":26.75,"r":6051.3},{"lat":27.25,"r":6051.3},{"lat":27.75,"r":6051.4},{"lat":28.25,"r":6051.4},{"lat":28.75,"r":6051.5},{"lat":29.25,"r":6051.5},{"lat":29.75,"r":6051.45},{"lat":30.25,"r":6051.5},{"lat":30.75,"r":6051.6},{"lat":31.25,"r":6051.5},{"lat":31.75,"r":6051.35},{"lat":32.25,"r":6051.45},{"lat":32.75,"r":6051.55},{"lat":33.25,"r":6051.5},{"lat":33.75,"r":6051.55},{"lat":34.25,"r":6051.8},{"lat":34.75,"r":6051.4},{"lat":35.25,"r":6051.15},{"lat":35.75,"r":6051.25},{"lat":36.25,"r":6051.2},{"lat":36.75,"r":6051.0},{"lat":37.25,"r":6050.85},{"lat":37.75,"r":6050.75},{"lat":38.25,"r":6050.65},{"lat":38.75,"r":6050.65},{"lat":39.25,"r":6051.1},{"lat":39.75,"r":6051.25},{"lat":40.25,"r":6051.0},{"lat":40.75,"r":6051.15},{"lat":41.25,"r":6051.45},{"lat":41.75,"r":6051.35},{"lat":42.25,"r":6051.3},{"lat":42.75,"r":6051.5},{"lat":43.25,"r":6051.5},{"lat":43.75,"r":6051.45},{"lat":45.0,"r":6051.45},{"lat":45.25,"r":6051.55},{"lat":45.75,"r":6051.65},{"lat":46.25,"r":6051.75},{"lat":46.75,"r":6051.85},{"lat":47.25,"r":6051.85},{"lat":47.75,"r":6051.75},{"lat":48.25,"r":6051.75},{"lat":48.75,"r":6051.9},{"lat":49.25,"r":6052.0},{"lat":49.75,"r":6052.05},{"lat":50.15,"r":6052.3},{"lat":50.45,"r":6052.4},{"lat":50.8,"r":6052.1},{"lat":51.15,"r":6051.75},{"lat":51.5,"r":6051.9},{"lat":51.85,"r":6052.3},{"lat":52.25,"r":6052.4},{"lat":52.75,"r":6052.6},{"lat":53.25,"r":6052.9},{"lat":53.75,"r":6053.1},{"lat":54.25,"r":6053.25},{"lat":54.75,"r":6053.5},{"lat":55.25,"r":6053.8},{"lat":55.75,"r":6054.1},{"lat":56.25,"r":6054.2},{"lat":56.75,"r":6054.5},{"lat":57.25,"r":6054.8},{"lat":57.75,"r":6054.8},{"lat":58.25,"r":6054.8},{"lat":58.75,"r":6054.9},{"lat":59.25,"r":6054.9},{"lat":59.75,"r":6054.8},{"lat":60.25,"r":6054.9},{"lat":60.75,"r":6055.25},{"lat":61.25,"r":6055.7},{"lat":61.75,"r":6056.05},{"lat":62.25,"r":6056.3},{"lat":62.75,"r":6056.35},{"lat":63.25,"r":6056.3},{"lat":63.75,"r":6056.2},{"lat":64.25,"r":6056.0},{"lat":64.75,"r":6055.75},{"lat":65.25,"r":6055.55},{"lat":65.75,"r":6055.5},{"lat":66.25,"r":6055.55},{"lat":66.75,"r":6055.7},{"lat":67.25,"r":6055.4},{"lat":67.75,"r":6055.05},{"lat":68.25,"r":6055.1},{"lat":68.65,"r":6055.3}
],
"frame": [{"lat":-90,"r":6045},{"lat":90,"r":6065}]
},
"resolve": {"axis": {"x": "independent", "y": "independent"}},
"layer": [
{
  "data": {"name": "raw"},
  "mark": {"type": "circle", "color": "black", "opacity": 1, "size": 100},
  "encoding": {
    "x": {"field": "lat", "type": "quantitative", "scale": {"domain": [-90, 90], "nice": false, "zero": false},
      "axis": {"orient": "bottom", "values": [-90,-60,-30,0,30,60,90], "labelExpr": "'' + datum.value", "tickSize": -112, "labelPadding": 137, "title": "Latitude, deg", "titlePadding": 20}},
    "y": {"field": "r", "type": "quantitative", "scale": {"domain": [6045, 6065], "nice": false, "zero": false},
      "axis": {"orient": "left", "values": [6045,6050,6055,6060,6065], "format": "d", "tickSize": -112, "labelPadding": 150, "title": "Radius, km", "titlePadding": 65}}
  }
},
{
  "data": {"name": "smooth"},
  "mark": {"type": "circle", "color": "#ff0000", "opacity": 1, "size": 190},
  "encoding": {
    "x": {"field": "lat", "type": "quantitative", "scale": {"domain": [-90, 90], "nice": false, "zero": false},
      "axis": {"orient": "bottom", "values": [-85,-80,-75,-70,-65,-55,-50,-45,-40,-35,-25,-20,-15,-10,-5,5,10,15,20,25,35,40,45,50,55,65,70,75,80,85], "tickSize": -56, "labels": false, "title": null}},
    "y": {"field": "r", "type": "quantitative", "scale": {"domain": [6045, 6065], "nice": false, "zero": false},
      "axis": {"orient": "left", "values": [6046,6047,6048,6049,6051,6052,6053,6054,6056,6057,6058,6059,6061,6062,6063,6064], "tickSize": -56, "labels": false, "title": null}}
  }
},
{
  "data": {"name": "frame"},
  "mark": {"type": "circle", "opacity": 0},
  "encoding": {
    "x": {"field": "lat", "type": "quantitative", "scale": {"domain": [-90, 90], "nice": false, "zero": false},
      "axis": {"orient": "top", "values": [-90,-60,-30,0,30,60,90], "tickSize": -112, "labels": false, "title": null}},
    "y": {"field": "r", "type": "quantitative", "scale": {"domain": [6045, 6065], "nice": false, "zero": false},
      "axis": {"orient": "right", "values": [6045,6050,6055,6060,6065], "tickSize": -112, "labels": false, "title": null}}
  }
},
{
  "data": {"name": "frame"},
  "mark": {"type": "circle", "opacity": 0},
  "encoding": {
    "x": {"field": "lat", "type": "quantitative", "scale": {"domain": [-90, 90], "nice": false, "zero": false},
      "axis": {"orient": "top", "values": [-85,-80,-75,-70,-65,-55,-50,-45,-40,-35,-25,-20,-15,-10,-5,5,10,15,20,25,35,40,45,50,55,65,70,75,80,85], "tickSize": -56, "labels": false, "title": null}},
    "y": {"field": "r", "type": "quantitative", "scale": {"domain": [6045, 6065], "nice": false, "zero": false},
      "axis": {"orient": "right", "values": [6046,6047,6048,6049,6051,6052,6053,6054,6056,6057,6058,6059,6061,6062,6063,6064], "tickSize": -56, "labels": false, "title": null}}
  }
}
]
}
